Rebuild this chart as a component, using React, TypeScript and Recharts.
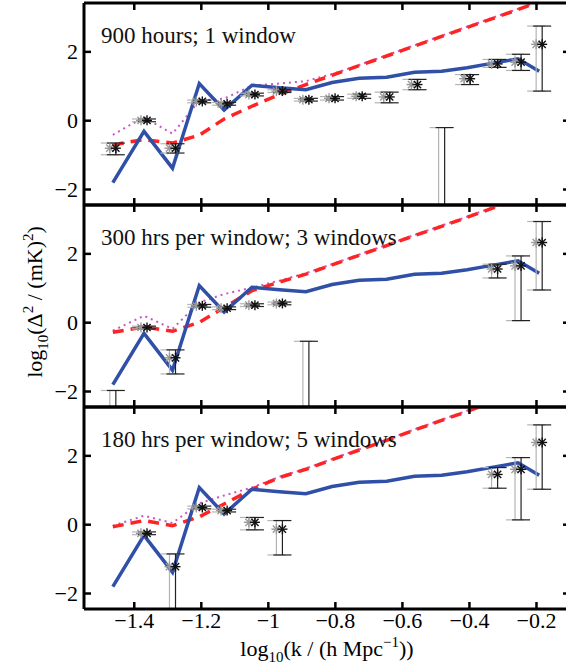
import { ComposedChart, ErrorBar, Line, Scatter, XAxis, YAxis } from "recharts";

// log10 k bin centres
const kBins = [
  -1.464, -1.371, -1.286, -1.206, -1.132, -1.049, -0.967, -0.888, -0.81, -0.729, -0.647, -0.564, -0.483, -0.407,
  -0.325, -0.255, -0.192,
];
const xTicks = [-1.4, -1.2, -1, -0.8, -0.6, -0.4, -0.2];
const yTicks = [-2, 0, 2];

// blue model curve (same in every panel)
const signal = [-1.8, -0.31, -1.38, 1.08, 0.31, 1.03, 0.96, 0.9, 1.11, 1.23, 1.26, 1.41, 1.44, 1.54, 1.68, 1.8, 1.44];

// red dashed curves
const noise900 = [-0.7, -0.55, -0.65, -0.42, 0.05, 0.42, 0.76, 1.05, 1.32, 1.6, 1.88, 2.17, 2.45, 2.71, 2.99, 3.23, 3.45];
const noise300 = [-0.28, -0.12, -0.25, 0.01, 0.44, 0.93, 1.18, 1.41, 1.68, 1.96, 2.24, 2.53, 2.8, 3.06, 3.35, 3.59, 3.8];
const noise180 = [-0.06, 0.12, -0.03, 0.23, 0.6, 1.03, 1.37, 1.61, 1.89, 2.17, 2.45, 2.75, 3.03, 3.29, 3.58, 3.83, 4.04];

// magenta dotted curves
const total900 = [-0.41, 0.1, -0.38, 0.58, 0.64, 1.02, 1.08, 1.15, 1.35, 1.62, 1.9, 2.19, 2.47, 2.73, 3.01, 3.25, 3.47];
const total300 = [-0.23, 0.2, -0.18, 0.59, 0.83, 1.02, 1.22, 1.44, 1.7, 1.98, 2.26, 2.55, 2.82, 3.08, 3.37, 3.61, 3.82];
const total180 = [-0.03, 0.26, 0.05, 0.62, 0.85, 1.08, 1.39, 1.63, 1.91, 2.19, 2.47, 2.77, 3.05, 3.31, 3.6, 3.85, 4.06];

// measured power (asterisks); null = not plotted, values below the axis only show their error bar
const meas900 = [-0.8, 0.01, -0.8, 0.56, 0.49, 0.76, 0.86, 0.61, 0.65, 0.71, 0.69, 1.05, -3.5, 1.22, 1.65, 1.7, 2.22];
const lo900 = [0.19, 0.04, 0.14, 0.04, 0.04, 0.04, 0.04, 0.04, 0.05, 0.06, 0.17, 0.15, 0, 0.17, 0.1, 0.24, 1.36];
const hi900 = [0.15, 0.04, 0.13, 0.04, 0.04, 0.04, 0.04, 0.04, 0.05, 0.06, 0.14, 0.15, 3.3, 0.12, 0.13, 0.23, 0.53];

const meas300 = [-3.5, -0.14, -1.02, 0.49, 0.42, 0.51, 0.56, -3.5, null, null, null, null, null, null, 1.56, 1.65, 2.33];
const lo300 = [0, 0.04, 0.47, 0.04, 0.04, 0.04, 0.04, 0, 0, 0, 0, 0, 0, 0, 0.26, 1.59, 1.38];
const hi300 = [1.53, 0.04, 0.23, 0.04, 0.04, 0.04, 0.04, 2.96, 0, 0, 0, 0, 0, 0, 0.14, 0.29, 0.61];

const meas180 = [null, -0.25, -1.22, 0.5, 0.41, 0.07, -0.13, null, null, null, null, null, null, null, 1.46, 1.61, 2.39];
const lo180 = [0, 0.04, 2.0, 0.04, 0.04, 0.22, 0.75, 0, 0, 0, 0, 0, 0, 0, 0.4, 1.47, 1.36];
const hi180 = [0, 0.04, 0.37, 0.04, 0.04, 0.14, 0.25, 0, 0, 0, 0, 0, 0, 0, 0.2, 0.34, 0.51];

const FONT = '"Liberation Serif", "Times New Roman", serif';
const PLOT_H = 202;
const X_MIN = -1.55;
const X_MAX = -0.1;
const Y_MIN = -2.45;
const Y_MAX = 3.42;
const SHIFT = 0.009;
const TICK = 7;

const fmt = (v: number) => (v < 0 ? "\u2212" + String(-v) : String(v));

// error bars are not clipped by recharts, so cut them at the bottom of the axes here
function points(vals: (number | null)[], lo: number[], hi: number[], shift: number) {
  return kBins.flatMap((k, i) => {
    const v = vals[i];
    if (v == null) return [];
    const top = v + hi[i];
    const bottom = Math.max(v - lo[i], Y_MIN);
    if (v < Y_MIN) return [{ k: k + shift, v: Y_MIN, off: true, err: [0, top - Y_MIN] }];
    return [{ k: k + shift, v, off: false, err: [v - bottom, top - v] }];
  });
}

// inward tick marks on all four sides of the box (matlab style)
const tickMarks = [
  ...xTicks.flatMap((t) => [
    { k: t, v: Y_MIN, dx: 0, dy: -1 },
    { k: t, v: Y_MAX, dx: 0, dy: 1 },
  ]),
  ...yTicks.flatMap((t) => [
    { k: X_MIN, v: t, dx: 1, dy: 0 },
    { k: X_MAX, v: t, dx: -1, dy: 0 },
  ]),
];

function TickMark(props: any) {
  const { cx, cy, payload } = props;
  if (cx == null || cy == null || isNaN(cx) || isNaN(cy)) return null;
  return (
    <line
      x1={cx}
      y1={cy}
      x2={cx + payload.dx * TICK}
      y2={cy + payload.dy * TICK}
      stroke="#000"
      strokeWidth={2.5}
    />
  );
}

function XTickLabel(props: any) {
  const { x, y, payload, showLabel } = props;
  if (!showLabel) return null;
  return (
    <text x={x} y={y + 19} textAnchor="middle" fontFamily={FONT} fontSize={22} fill="#000">
      {fmt(payload.value)}
    </text>
  );
}

function YTickLabel(props: any) {
  const { x, y, payload } = props;
  return (
    <text x={x - 6} y={y + 7.5} textAnchor="end" fontFamily={FONT} fontSize={22} fill="#000">
      {fmt(payload.value)}
    </text>
  );
}

function Asterisk(props: any) {
  const { cx, cy, color, payload } = props;
  if (cx == null || cy == null || isNaN(cx) || isNaN(cy) || (payload && payload.off)) return null;
  const r = 5;
  const d = 3.6;
  return (
    <g stroke={color} strokeWidth={1.4}>
      <line x1={cx - r} y1={cy} x2={cx + r} y2={cy} />
      <line x1={cx} y1={cy - r} x2={cx} y2={cy + r} />
      <line x1={cx - d} y1={cy - d} x2={cx + d} y2={cy + d} />
      <line x1={cx - d} y1={cy + d} x2={cx + d} y2={cy - d} />
    </g>
  );
}

function YLabel(props: any) {
  const vb = props.viewBox || { x: 8, y: 205, width: 76, height: 202 };
  const x = vb.x + 34;
  const y = vb.y + vb.height / 2 - 4;
  return (
    <text x={x} y={y} transform={`rotate(-90 ${x} ${y})`} textAnchor="middle" fontFamily={FONT} fontSize={22} fill="#000">
      log
      <tspan fontSize={15} dy={6}>
        10
      </tspan>
      <tspan dy={-6}>({"\u0394"}</tspan>
      <tspan fontSize={15} dy={-9}>
        2
      </tspan>
      <tspan dy={9}> / (mK)</tspan>
      <tspan fontSize={15} dy={-9}>
        2
      </tspan>
      <tspan dy={9}>)</tspan>
    </text>
  );
}

function XLabel(props: any) {
  const vb = props.viewBox || { x: 84, y: 609, width: 486, height: 62 };
  const x = vb.x + vb.width / 2;
  const y = vb.y + 47;
  return (
    <text x={x} y={y} textAnchor="middle" fontFamily={FONT} fontSize={22} fill="#000">
      log
      <tspan fontSize={15} dy={6}>
        10
      </tspan>
      <tspan dy={-6}>(k / (h Mpc</tspan>
      <tspan fontSize={15} dy={-9}>
        {"\u2212"}1
      </tspan>
      <tspan dy={9}>))</tspan>
    </text>
  );
}

const axisLine = { stroke: "#000", strokeWidth: 3 };

function Panel({
  top,
  title,
  noise,
  total,
  meas,
  lo,
  hi,
  bottom,
  yLabel,
}: {
  top: number;
  title: string;
  noise: number[];
  total: number[];
  meas: (number | null)[];
  lo: number[];
  hi: number[];
  bottom?: boolean;
  yLabel?: boolean;
}) {
  const lineData = kBins.map((k, i) => ({ k, signal: signal[i], noise: noise[i], total: total[i] }));
  const grayPts = points(meas, lo, hi, -SHIFT);
  const blackPts = points(meas, lo, hi, SHIFT);
  const height = 5 + PLOT_H + (bottom ? 62 : 5);

  return (
    <>
      <div style={{ position: "absolute", left: 0, top: top - 5 }}>
        <ComposedChart
          width={600}
          height={height}
          data={lineData}
          margin={{ top: 4, right: 29, bottom: bottom ? 0 : 4, left: 8 }}
        >
          <XAxis
            dataKey="k"
            type="number"
            domain={[X_MIN, X_MAX]}
            allowDataOverflow
            ticks={xTicks}
            interval={0}
            tick={(p: any) => <XTickLabel {...p} showLabel={!!bottom} />}
            tickSize={0}
            tickMargin={0}
            tickLine={false}
            height={bottom ? 62 : 1}
            axisLine={axisLine}
            label={bottom ? <XLabel /> : undefined}
          />
          <XAxis xAxisId="t" orientation="top" tick={false} tickLine={false} height={1} axisLine={axisLine} />
          <YAxis
            type="number"
            domain={[Y_MIN, Y_MAX]}
            allowDataOverflow
            ticks={yTicks}
            interval={0}
            tick={(p: any) => <YTickLabel {...p} />}
            tickSize={0}
            tickMargin={0}
            tickLine={false}
            width={76}
            axisLine={axisLine}
            label={yLabel ? <YLabel /> : undefined}
          />
          <YAxis yAxisId="r" orientation="right" tick={false} tickLine={false} width={1} axisLine={axisLine} />
          <Line
            dataKey="total"
            stroke="#c858c8"
            strokeWidth={2}
            strokeDasharray="2 4"
            dot={false}
            activeDot={false}
            isAnimationActive={false}
          />
          <Line
            dataKey="noise"
            stroke="#ff2424"
            strokeWidth={3.5}
            strokeDasharray="11 7"
            dot={false}
            activeDot={false}
            isAnimationActive={false}
          />
          <Line
            dataKey="signal"
            stroke="#2f50a6"
            strokeWidth={3.5}
            dot={false}
            activeDot={false}
            isAnimationActive={false}
          />
          <Scatter data={grayPts} dataKey="v" shape={(p: any) => <Asterisk {...p} color="#9a9a9a" />} isAnimationActive={false}>
            <ErrorBar dataKey="err" direction="y" width={9} stroke="#b4b4b4" strokeWidth={1.2} isAnimationActive={false} />
          </Scatter>
          <Scatter data={blackPts} dataKey="v" shape={(p: any) => <Asterisk {...p} color="#111" />} isAnimationActive={false}>
            <ErrorBar dataKey="err" direction="y" width={9} stroke="#222" strokeWidth={1.2} isAnimationActive={false} />
          </Scatter>
          <Scatter data={tickMarks} dataKey="v" shape={(p: any) => <TickMark {...p} />} isAnimationActive={false} />
        </ComposedChart>
      </div>
      <div
        style={{
          position: "absolute",
          left: 101,
          top: top + 21.2,
          fontFamily: FONT,
          fontSize: 23,
          lineHeight: "23px",
          whiteSpace: "nowrap",
          color: "#111",
        }}
      >
        {title}
      </div>
    </>
  );
}

export default function App() {
  return (
    <div
      style={{
        position: "absolute",
        left: 0,
        top: 0,
        width: 566,
        height: 672,
        overflow: "hidden",
        background: "#fff",
      }}
    >
      <Panel top={3} title="900 hours; 1 window" noise={noise900} total={total900} meas={meas900} lo={lo900} hi={hi900} />
      <Panel
        top={205}
        title="300 hrs per window; 3 windows"
        noise={noise300}
        total={total300}
        meas={meas300}
        lo={lo300}
        hi={hi300}
        yLabel
      />
      <Panel
        top={407}
        title="180 hrs per window; 5 windows"
        noise={noise180}
        total={total180}
        meas={meas180}
        lo={lo180}
        hi={hi180}
        bottom
      />
    </div>
  );
}
